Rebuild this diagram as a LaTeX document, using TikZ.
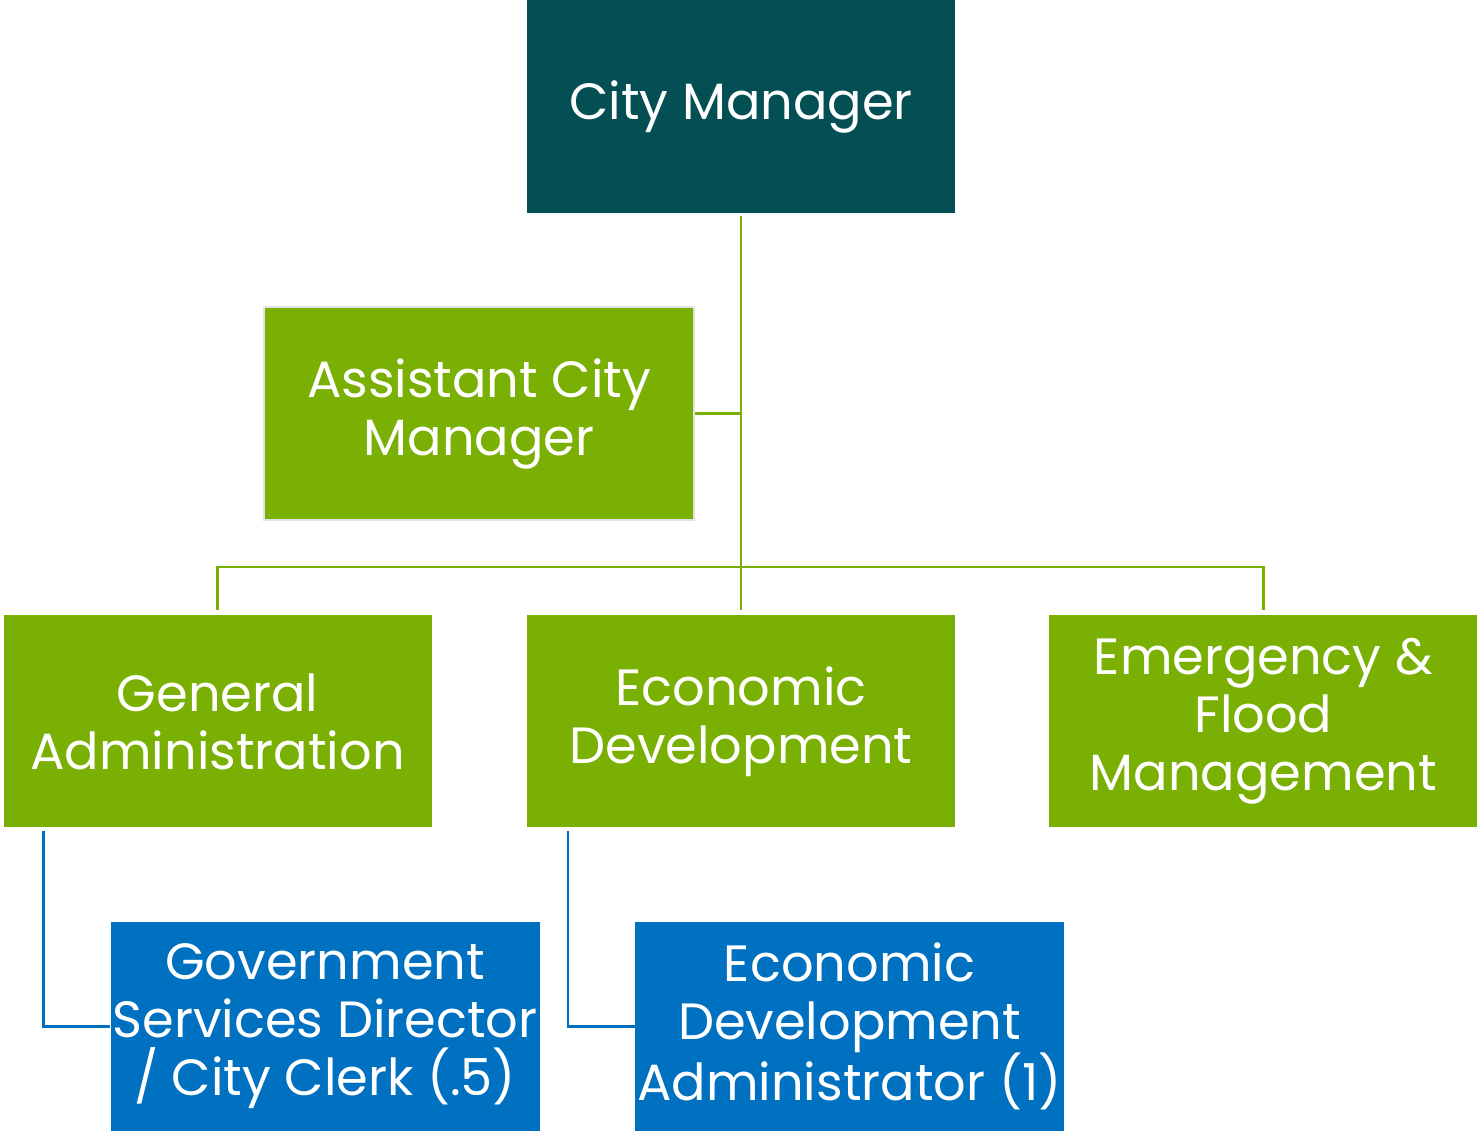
\documentclass[tikz,border=0pt]{standalone}
\usepackage{fontspec}
\setmainfont{Poppins}
\usetikzlibrary{positioning}
\definecolor{mgrteal}{HTML}{034F54}
\definecolor{deptgreen}{HTML}{7AAF04}
\definecolor{staffblue}{HTML}{0070C0}
\definecolor{edgegrey}{HTML}{E2E2E2}
\tikzstyle{unit}=[rectangle, text=white, align=center, inner sep=0pt, minimum width=428pt, minimum height=212pt, font=\fontsize{51}{58}\selectfont]
\tikzstyle{manager}=[unit, fill=mgrteal, minimum height=213pt]
\tikzstyle{dept}=[unit, fill=deptgreen]
\tikzstyle{staff}=[unit, fill=staffblue, minimum width=429pt, minimum height=209pt]
\tikzset{greenline/.style={draw=deptgreen, line width=2.5pt}, blueline/.style={draw=staffblue, line width=2.5pt}}

\begin{document}
\begin{tikzpicture}[x=1pt, y=-1pt]
    \useasboundingbox (0,0) rectangle (1478,1130);

        \node(cityMgr)[manager] at (741,106.5) {City Manager};
        \node(asstMgr)[dept, draw=edgegrey, line width=2pt, minimum width=430pt, minimum height=213pt] at (479,413.5) {Assistant City\\Manager};

        \node(econDev)[dept, below=402pt of cityMgr]{Economic\\Development};
        \node(genAdmin)[dept, left=95pt of econDev]{General\\Administration};
        \node(floodMgmt)[dept, right=94pt of econDev]{Emergency \&\\Flood\\Management};

        \node(govSvc)[staff, below=94pt of genAdmin.south west, anchor=north west, xshift=107pt]{Government\\Services Director\\/ City Clerk (.5)};
        \node(econAdmin)[staff, below=94pt of econDev.south west, anchor=north west, xshift=108pt]{Economic\\Development\\Administrator (1)};

        \coordinate (bus) at (741,567);
        \draw [greenline] ([yshift=-3pt]cityMgr.south) -- ([yshift=5pt]econDev.north);
        \draw [greenline] ([yshift=5pt]genAdmin.north) |- (bus) -| ([yshift=5pt]floodMgmt.north);
        \draw [greenline] (asstMgr.east) -- (asstMgr.east -| cityMgr.south);

        \draw [blueline] ([xshift=40pt, yshift=-3pt]genAdmin.south west) |- (govSvc.west);
        \draw [blueline] ([xshift=41pt, yshift=-3pt]econDev.south west) |- (econAdmin.west);

    \end{tikzpicture}
\end{document}
